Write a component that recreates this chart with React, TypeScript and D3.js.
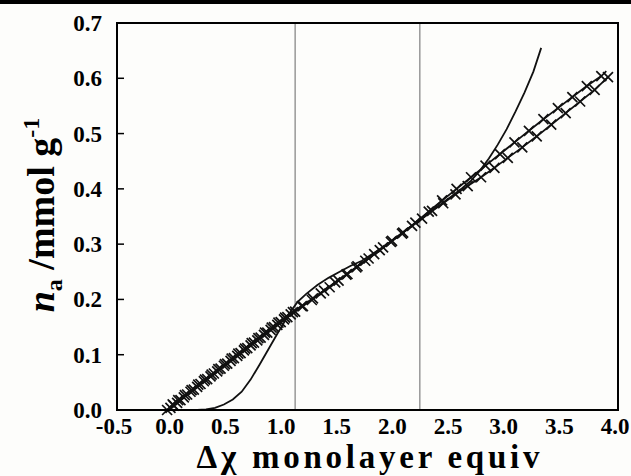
import React from "react";
import * as d3 from "d3";

// series with x markers (straight part)
const seriesA: [number, number][] = [
  [-0.05, 0.0], [-0.02, 0.004], [0.01, 0.008], [0.04, 0.013], [0.07, 0.018],
  [0.1, 0.023], [0.13, 0.028], [0.16, 0.033], [0.19, 0.037], [0.22, 0.042],
  [0.25, 0.047], [0.28, 0.052], [0.31, 0.056], [0.34, 0.061], [0.37, 0.066],
  [0.4, 0.07], [0.43, 0.075], [0.46, 0.08], [0.49, 0.084], [0.52, 0.089],
  [0.55, 0.094], [0.58, 0.098], [0.61, 0.103], [0.64, 0.108], [0.67, 0.112],
  [0.7, 0.117], [0.73, 0.122], [0.76, 0.126], [0.79, 0.131], [0.82, 0.136],
  [0.85, 0.14], [0.88, 0.145], [0.91, 0.15], [0.94, 0.154], [0.97, 0.159],
  [1.0, 0.164], [1.03, 0.168], [1.06, 0.173], [1.1, 0.178], [1.17, 0.188],
  [1.25, 0.199], [1.33, 0.211], [1.41, 0.222], [1.49, 0.234], [1.57, 0.246],
  [1.65, 0.258], [1.73, 0.27], [1.81, 0.282], [1.89, 0.294], [1.97, 0.306],
  [2.06, 0.319], [2.15, 0.333], [2.24, 0.346], [2.33, 0.36], [2.43, 0.374],
  [2.54, 0.39], [2.65, 0.405], [2.77, 0.421], [2.89, 0.438], [3.01, 0.456],
  [3.14, 0.475], [3.27, 0.495], [3.4, 0.516], [3.53, 0.537], [3.66, 0.558],
  [3.79, 0.579], [3.91, 0.602],
];

// second marker series, slightly above A
const seriesB: [number, number][] = [
  [0.0, 0.01], [0.05, 0.018], [0.11, 0.027], [0.17, 0.036], [0.23, 0.046],
  [0.29, 0.055], [0.35, 0.064], [0.41, 0.074], [0.47, 0.083], [0.53, 0.093],
  [0.59, 0.102], [0.65, 0.111], [0.71, 0.121], [0.77, 0.13], [0.83, 0.14],
  [0.89, 0.149], [0.95, 0.158], [1.01, 0.167], [1.08, 0.177], [1.16, 0.188],
  [1.26, 0.202], [1.36, 0.216], [1.46, 0.231], [1.56, 0.245], [1.66, 0.26],
  [1.76, 0.274], [1.86, 0.289], [1.96, 0.304], [2.07, 0.321], [2.18, 0.339],
  [2.3, 0.359], [2.42, 0.379], [2.55, 0.4], [2.68, 0.421], [2.81, 0.442],
  [2.94, 0.463], [3.07, 0.484], [3.2, 0.505], [3.33, 0.526], [3.46, 0.546],
  [3.59, 0.566], [3.72, 0.586], [3.85, 0.604],
];

// solid curve, no markers
const seriesC: [number, number][] = [
  [0.22, 0.0], [0.3, 0.001], [0.38, 0.004], [0.46, 0.01], [0.54, 0.019],
  [0.62, 0.033], [0.7, 0.055], [0.78, 0.082], [0.86, 0.11], [0.94, 0.138],
  [1.0, 0.158], [1.06, 0.178], [1.12, 0.195], [1.2, 0.21], [1.3, 0.226],
  [1.4, 0.239], [1.5, 0.25], [1.6, 0.261], [1.7, 0.27], [1.8, 0.283],
  [1.9, 0.296], [2.0, 0.311], [2.1, 0.326], [2.2, 0.341], [2.3, 0.356],
  [2.4, 0.371], [2.5, 0.386], [2.6, 0.401], [2.68, 0.415], [2.76, 0.433],
  [2.84, 0.455], [2.92, 0.48], [3.0, 0.508], [3.08, 0.54], [3.16, 0.574],
  [3.24, 0.612], [3.31, 0.655],
];

const monolayerLines = [1.1, 2.22];
const xTicks = [-0.5, 0.0, 0.5, 1.0, 1.5, 2.0, 2.5, 3.0, 3.5, 4.0];
const yTicks = [0.0, 0.1, 0.2, 0.3, 0.4, 0.5, 0.6, 0.7];

const W = 631;
const H = 476;
const margin = { top: 23, right: 13, bottom: 66, left: 117 };
const font = "Liberation Serif";

export default function App() {
  const x = d3
    .scaleLinear()
    .domain([-0.5, 4.0])
    .range([margin.left, W - margin.right]);
  const y = d3
    .scaleLinear()
    .domain([0, 0.7])
    .range([H - margin.bottom, margin.top]);

  const line = d3
    .line<[number, number]>()
    .x((d) => x(d[0]))
    .y((d) => y(d[1]));

  const s = 5;
  const cross = (d: [number, number], i: number) => {
    const cx = x(d[0]);
    const cy = y(d[1]);
    return (
      <path
        key={i}
        d={`M${cx - s},${cy - s}L${cx + s},${cy + s}M${cx - s},${cy + s}L${cx + s},${cy - s}`}
        stroke="#111"
        strokeWidth={1.7}
      />
    );
  };

  return (
    <svg
      width={W}
      height={H}
      style={{ position: "absolute", left: 0, top: 0, background: "#fdfdfb" }}
    >
      <rect x={0} y={0} width={W} height={4} fill="#000" />

      {monolayerLines.map((v) => (
        <line
          key={v}
          x1={x(v)}
          x2={x(v)}
          y1={y(0.7)}
          y2={y(0)}
          stroke="#888"
          strokeWidth={1.3}
        />
      ))}

      <path d={line(seriesA) || ""} fill="none" stroke="#111" strokeWidth={1.8} />
      <path d={line(seriesB) || ""} fill="none" stroke="#111" strokeWidth={1.8} />
      <path d={line(seriesC) || ""} fill="none" stroke="#111" strokeWidth={1.8} />
      <g>{seriesA.map(cross)}</g>
      <g>{seriesB.map(cross)}</g>

      <rect
        x={x(-0.5)}
        y={y(0.7)}
        width={x(4.0) - x(-0.5)}
        height={y(0) - y(0.7)}
        fill="none"
        stroke="#000"
        strokeWidth={2}
      />

      {yTicks.map((v) => (
        <g key={v}>
          <line x1={x(-0.5)} x2={x(-0.5) + 7} y1={y(v)} y2={y(v)} stroke="#000" strokeWidth={1.5} />
          <text
            x={102}
            y={y(v) + 8}
            textAnchor="end"
            fontFamily={font}
            fontWeight="bold"
            fontSize={23}
          >
            {v.toFixed(1)}
          </text>
        </g>
      ))}

      {xTicks.map((v) => (
        <text
          key={v}
          x={x(v) - 3}
          y={434}
          textAnchor="middle"
          fontFamily={font}
          fontWeight="bold"
          fontSize={23}
        >
          {v.toFixed(1)}
        </text>
      ))}

      <text
        x={368}
        y={468}
        textAnchor="middle"
        fontFamily={font}
        fontWeight="bold"
        fontSize={33}
        textLength={343}
        lengthAdjust="spacing"
      >
        Δχ monolayer equiv
      </text>

      <text
        transform="translate(54,215) rotate(-90)"
        textAnchor="middle"
        fontFamily={font}
        fontWeight="bold"
        fontSize={38}
      >
        <tspan fontStyle="italic">n</tspan>
        <tspan fontSize={24} dy={8}>a</tspan>
        <tspan dy={-8}> /mmol g</tspan>
        <tspan fontSize={24} dy={-15}>-1</tspan>
      </text>
    </svg>
  );
}
